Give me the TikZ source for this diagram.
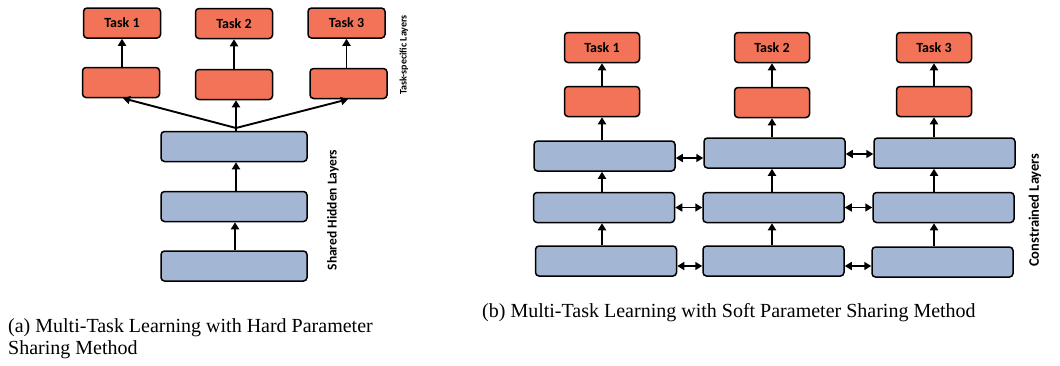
\documentclass[tikz,border=0pt]{standalone}
\usepackage{fontspec}
\setmainfont{Liberation Serif}
\newfontfamily\boxfont{Carlito}
\usetikzlibrary{arrows.meta}
\definecolor{taskor}{RGB}{242,115,87}
\definecolor{layerbl}{RGB}{163,183,212}
\begin{document}
\begin{tikzpicture}[x=1pt,y=-1pt,
  basebox/.style={draw=black,line width=1.5pt,rounded corners=3.5pt,inner sep=0pt,font=\boxfont\bfseries\fontsize{14}{16}\selectfont},
  orbox/.style={basebox,fill=taskor,minimum width=77pt,minimum height=30pt},
  blbox/.style={basebox,fill=layerbl,minimum width=146pt,minimum height=30pt},
  blboxr/.style={basebox,fill=layerbl,minimum width=141pt,minimum height=30pt},
  arr/.style={line width=1.9pt,-{Triangle[length=7pt,width=8pt]}},
  darr/.style={line width=1.6pt,{Triangle[length=7pt,width=8pt]}-{Triangle[length=7pt,width=8pt]}},
  sidelbl/.style={font=\boxfont\bfseries,rotate=90,inner sep=0pt},
  capt/.style={font=\fontsize{20}{22}\selectfont,inner sep=0pt,align=left}]
\useasboundingbox (0,0) rectangle (1060,365);
% ---------- (a) hard parameter sharing ----------
\node[orbox] (at1) at (122,23) {Task 1};
\node[orbox] (at2) at (234,23.5) {Task 2};
\node[orbox] (at3) at (346.5,23) {Task 3};
\node[orbox] (am1) at (121,82.5) {};
\node[orbox] (am2) at (234,84.5) {};
\node[orbox] (am3) at (348.5,83.5) {};
\node[blbox] (ab1) at (234,146.5) {};
\node[blbox] (ab2) at (234,206.5) {};
\node[blbox] (ab3) at (234,266) {};
\coordinate (fan) at (236,128);
\draw[line width=1.9pt] (ab1.north -| fan) -- (fan);
\draw[arr] (fan) -- (am1.south -| 123,0);
\draw[arr] (fan) -- (am2.south -| fan);
\draw[arr] (fan) -- (am3.south -| 348,0);
\draw[arr] (am1.north -| at1) -- (at1.south);
\draw[arr] (am2.north -| at2) -- (at2.south);
\draw[arr] (am3.north -| at3) -- (at3.south);
\draw[arr] (ab2.north -| fan) -- (ab1.south -| fan);
\draw[arr] (ab3.north -| 235,0) -- (ab2.south -| 235,0);
\node[sidelbl,font=\boxfont\bfseries\fontsize{13.5}{15}\selectfont] (ashl) at (333,210) {Shared Hidden Layers};
\node[sidelbl,font=\boxfont\bfseries\fontsize{10}{12}\selectfont] (atsl) at (404,55) {Task-specific Layers};
\node[capt,anchor=base west] (capa) at (8,354) {(a) Multi-Task Learning with Hard Parameter\\Sharing Method};
% ---------- (b) soft parameter sharing ----------
\node[orbox,minimum width=75pt] (bt1) at (602,47.5) {Task 1};
\node[orbox,minimum width=75pt] (bt2) at (772,47.5) {Task 2};
\node[orbox,minimum width=75pt] (bt3) at (934,47.5) {Task 3};
\node[orbox,minimum width=75pt] (bm1) at (602,101.5) {};
\node[orbox,minimum width=75pt] (bm2) at (772,102.5) {};
\node[orbox,minimum width=75pt] (bm3) at (934,101.5) {};
\node[blboxr] (r1c1) at (604.5,156) {};
\node[blboxr] (r1c2) at (774.5,153) {};
\node[blboxr] (r1c3) at (944.5,153) {};
\node[blboxr] (r2c1) at (604,207.5) {};
\node[blboxr] (r2c2) at (773.5,207.5) {};
\node[blboxr] (r2c3) at (943.5,207.5) {};
\node[blboxr] (r3c1) at (606,261) {};
\node[blboxr] (r3c2) at (773.5,261) {};
\node[blboxr] (r3c3) at (942.5,262) {};
% vertical arrows
\draw[arr] (bm1.north) -- (bt1.south);
\draw[arr] (bm2.north) -- (bt2.south);
\draw[arr] (bm3.north) -- (bt3.south);
\draw[arr] (r1c1.north -| bm1) -- (bm1.south);
\draw[arr] (r1c2.north -| bm2) -- (bm2.south);
\draw[arr] (r1c3.north -| bm3) -- (bm3.south);
\draw[arr] (r2c1.north -| bm1) -- (r1c1.south -| bm1);
\draw[arr] (r2c2.north -| bm2) -- (r1c2.south -| bm2);
\draw[arr] (r2c3.north -| bm3) -- (r1c3.south -| bm3);
\draw[arr] (r3c1.north -| bm1) -- (r2c1.south -| bm1);
\draw[arr] (r3c2.north -| bm2) -- (r2c2.south -| bm2);
\draw[arr] (r3c3.north -| bm3) -- (r2c3.south -| bm3);
% horizontal double arrows
\draw[darr] (r1c1.east |- 0,158) -- (r1c2.west |- 0,158);
\draw[darr] (r1c2.east |- 0,154) -- (r1c3.west |- 0,154);
\draw[darr] (r2c1.east) -- (r2c2.west);
\draw[darr] (r2c2.east) -- (r2c3.west);
\draw[darr] (r3c1.east |- 0,266) -- (r3c2.west |- 0,266);
\draw[darr] (r3c2.east |- 0,266) -- (r3c3.west |- 0,266);
\node[sidelbl,font=\boxfont\bfseries\fontsize{14.5}{16}\selectfont] (bcl) at (1035,210) {Constrained Layers};
\node[capt,anchor=base west] (capb) at (482,317) {(b) Multi-Task Learning with Soft Parameter Sharing Method};
\end{tikzpicture}
\end{document}
